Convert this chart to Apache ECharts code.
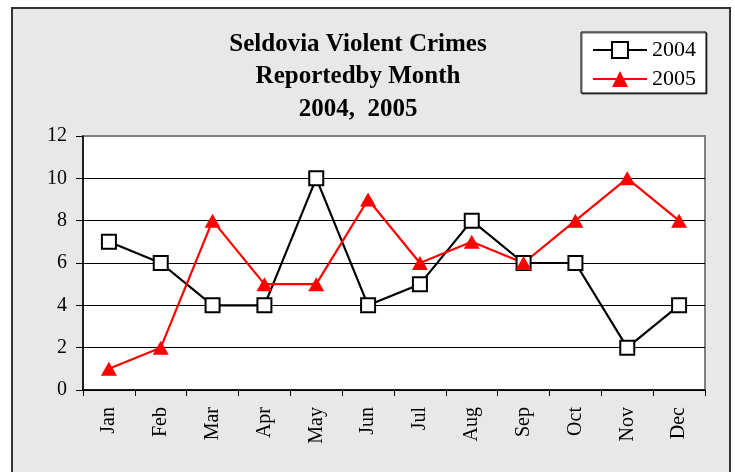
<!DOCTYPE html>
<html>
<head>
<meta charset="utf-8">
<script src="https://cdn.jsdelivr.net/npm/echarts@6/dist/echarts.min.js"></script>
<style>html,body{margin:0;padding:0;background:#fff;}#c{width:735px;height:472px;}</style>
</head>
<body>
<div id="c"></div>
<script>
var months = ['Jan','Feb','Mar','Apr','May','Jun','Jul','Aug','Sep','Oct','Nov','Dec'];
var crimes2004 = [7, 6, 4, 4, 10, 4, 5, 8, 6, 6, 2, 4];
var crimes2005 = [1, 2, 8, 5, 5, 9, 6, 7, 6, 8, 10, 8];
var yTicks = [0, 2, 4, 6, 8, 10, 12];
var titleText = 'Seldovia Violent Crimes\nReportedby Month\n2004,  2005';

var FONT = "'Liberation Serif', 'Times New Roman', serif";
var chart = echarts.init(document.getElementById('c'), null, {renderer: 'canvas'});
chart.setOption({
  animation: false,
  backgroundColor: '#ffffff',
  graphic: [{
    type: 'rect', z: -10, silent: true,
    shape: {x: 12, y: 8, width: 718, height: 480},
    style: {fill: '#e8e8e8', stroke: '#333333', lineWidth: 2}
  }],
  title: {
    text: titleText,
    left: 358, top: 28, textAlign: 'center', padding: 0,
    textStyle: {fontFamily: FONT, fontWeight: 'bold', fontSize: 25, lineHeight: 32.5, color: '#000'}
  },
  legend: {
    left: 581, top: 32, orient: 'vertical',
    padding: [7, 10, 3, 11],
    itemWidth: 54, itemHeight: 20, itemGap: 7,
    backgroundColor: '#ffffff', borderColor: '#000000', borderWidth: 1,
    shadowColor: 'rgba(0,0,0,0.6)', shadowOffsetX: 1, shadowOffsetY: 1, shadowBlur: 0,
    textStyle: {fontFamily: FONT, fontSize: 22, color: '#000'},
    data: ['2004', '2005']
  },
  grid: {
    left: 83, top: 136, width: 622, height: 254,
    show: true, backgroundColor: '#ffffff', borderColor: '#808080', borderWidth: 2
  },
  xAxis: {
    type: 'category', data: months, boundaryGap: true,
    axisLine: {lineStyle: {color: '#000', width: 1.5}},
    axisTick: {show: true, length: 6, inside: false, lineStyle: {color: '#000'}},
    axisLabel: {rotate: 90, fontFamily: FONT, fontSize: 20, color: '#000', margin: 17, interval: 0}
  },
  yAxis: {
    type: 'value', min: yTicks[0], max: yTicks[yTicks.length - 1], interval: 2,
    axisLine: {show: true, lineStyle: {color: '#000', width: 1.5}},
    axisTick: {show: true, length: 7, lineStyle: {color: '#000'}},
    axisLabel: {fontFamily: FONT, fontSize: 20, color: '#000', margin: 16},
    splitLine: {show: true, showMaxLine: false, lineStyle: {color: '#000', width: 1}}
  },
  series: [{
    name: '2004', type: 'line', data: crimes2004,
    symbol: 'rect', symbolSize: 14,
    lineStyle: {color: '#000', width: 2.2},
    itemStyle: {color: '#ffffff', borderColor: '#000', borderWidth: 2}
  }, {
    name: '2005', type: 'line', data: crimes2005,
    symbol: 'triangle', symbolSize: [16, 14],
    lineStyle: {color: '#ff0000', width: 2.2},
    itemStyle: {color: '#ff0000', borderColor: '#ff0000', borderWidth: 0}
  }]
});
</script>
</body>
</html>
